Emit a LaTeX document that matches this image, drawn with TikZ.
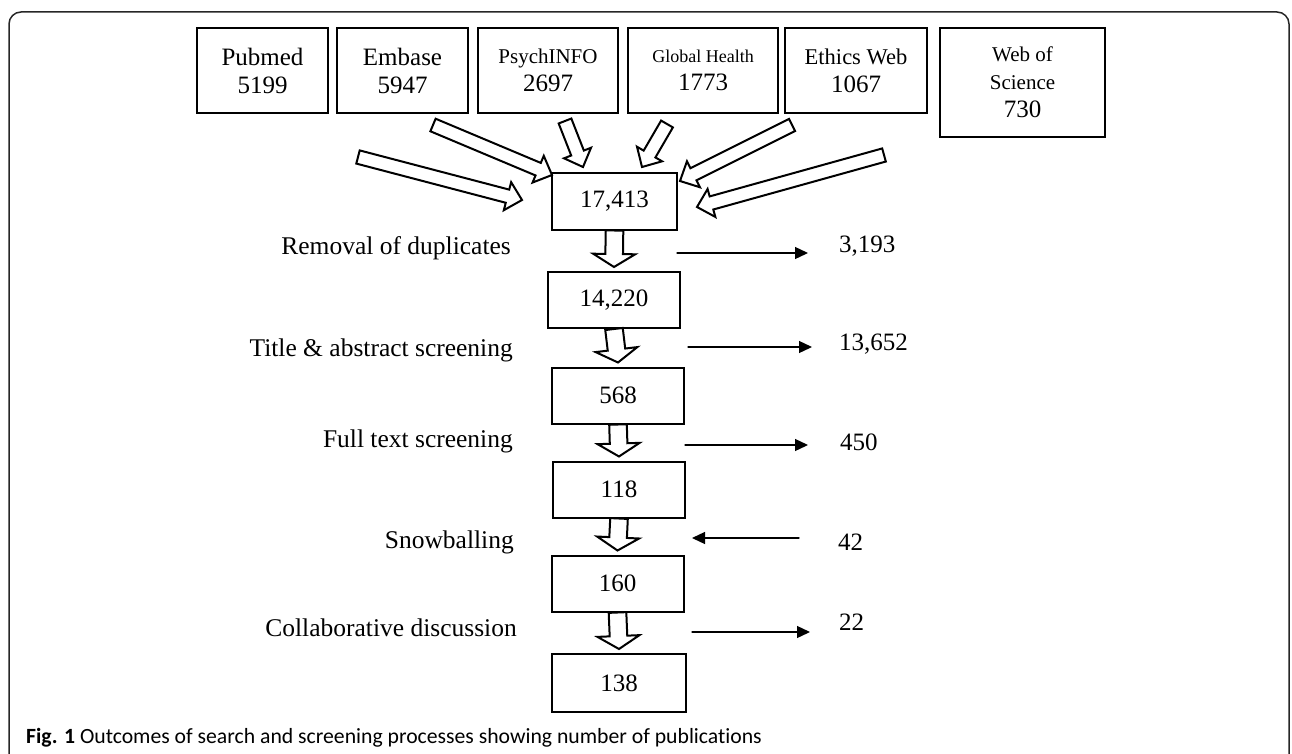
\documentclass[tikz,border=0pt]{standalone}
\usepackage{fontspec}
\setmainfont{Liberation Serif}
\newfontfamily\capfont[Ligatures=NoCommon]{Carlito}
\usetikzlibrary{calc,arrows.meta}

% hollow block arrow: tail, tip, shaft half width, head half width, head length
\newcommand{\hollowarrow}[5]{%
  \draw[fatline] let \p1=($(#2)-(#1)$), \n1={atan2(\y1,\x1)}, \n2={veclen(\x1,\y1)} in
    ($(#1)+(\n1+90:#3)$) -- ($(#1)+(\n1:\n2-#5)+(\n1+90:#3)$) -- ($(#1)+(\n1:\n2-#5)+(\n1+90:#4)$)
    -- (#2) -- ($(#1)+(\n1:\n2-#5)+(\n1-90:#4)$) -- ($(#1)+(\n1:\n2-#5)+(\n1-90:#3)$)
    -- ($(#1)+(\n1-90:#3)$) -- cycle;
}

\begin{document}
\begin{tikzpicture}[
		x=1pt,y=1pt,
		line cap=round,
		box/.style={draw,line width=2pt,minimum width=132pt,minimum height=56pt,inner sep=0pt,align=center,font=\fontsize{25}{28}\selectfont},
		src/.style={box,minimum height=85pt},
		lbl/.style={anchor=east,inner sep=0pt,font=\fontsize{25.5}{28}\selectfont},
		num/.style={anchor=west,inner sep=0pt,font=\fontsize{25}{28}\selectfont},
		outarrow/.style={line width=1.3pt,-{Triangle[length=13pt,width=12pt]}},
		fatline/.style={line width=2pt,line join=miter,fill=white}
		]
		\useasboundingbox (0,0) rectangle (1292,-754);
		\draw[line width=1.5pt,black!85,rounded corners=12pt] (9,-800) -- (9,-12) -- (1289,-12) -- (1289,-800);
		% databases
		\node[src,minimum width=131pt] (pubmed) at (262.5,-70.5) {Pubmed\\5199};
		\node[src,minimum width=131pt] (embase) at (402.5,-70.5) {Embase\\5947};
		\node[src,minimum width=140pt] (psych) at (548,-70.5) {{\fontsize{21}{24}\selectfont PsychINFO}\\2697};
		\node[src,minimum width=150pt] (global) at (703,-70.5) {{\fontsize{18}{22}\selectfont Global Health}\\1773};
		\node[src,minimum width=142pt] (ethics) at (856,-70.5) {{\fontsize{22.5}{26}\selectfont Ethics Web}\\1067};
		\node[src,minimum width=165pt,minimum height=109pt] (wos) at (1022.5,-82.5) {{\fontsize{21}{25}\selectfont Web of}\\{\fontsize{21}{27}\selectfont Science}\\730};
		% screening steps
		\node[box,minimum width=125pt] (n1) at (614.5,-201.5) {17,413};
		\node[box] (n2) at (614,-300) {14,220};
		\node[box] (n3) at (618,-395.5) {568};
		\node[box] (n4) at (619,-489.5) {118};
		\node[box] (n5) at (617.5,-583.5) {160};
		\node[box,minimum width=134pt,minimum height=58pt] (n6) at (619,-683) {138};
		% merging arrows
		\coordinate (t1) at (358,-157); \coordinate (h1) at (522,-200);
		\coordinate (t2) at (433,-125); \coordinate (h2) at (552,-175);
		\coordinate (t3) at (565,-121); \coordinate (h3) at (583,-167);
		\coordinate (t4) at (667,-124); \coordinate (h4) at (642,-167);
		\coordinate (t5) at (792,-125); \coordinate (h5) at (680,-181);
		\coordinate (t6) at (884,-155); \coordinate (h6) at (697,-207);
		\foreach \i in {1,...,6}
			\hollowarrow{t\i}{h\i}{6.8}{14.5}{15};
		\foreach \a/\b in {n1/n2,n2/n3,n3/n4,n4/n5,n5/n6}{
			\coordinate (tip) at ([yshift=4pt]\b.north);
			\hollowarrow{\a.south}{tip}{8.8}{21}{13};
		}
		% step labels
		\node[lbl] (l1) at (511,-248) {Removal of duplicates};
		\node[lbl] (l2) at (513,-350) {Title \& abstract screening};
		\node[lbl] (l3) at (513,-441) {Full text screening};
		\node[lbl] (l4) at (514,-542) {Snowballing};
		\node[lbl] (l5) at (517,-628) {Collaborative discussion};
		% excluded / added
		\node[num] (r1) at (839,-246) {3,193};
		\node[num] (r2) at (839,-344) {13,652};
		\node[num] (r3) at (840,-442) {450};
		\node[num] (r4) at (838,-542) {42};
		\node[num] (r5) at (839,-622) {22};
		\coordinate (a1) at (677,-253); \coordinate (b1) at (808,-253);
		\coordinate (a2) at (688,-347); \coordinate (b2) at (812,-347);
		\coordinate (a3) at (685,-445); \coordinate (b3) at (808,-445);
		\coordinate (a4) at (799,-538); \coordinate (b4) at (692,-538);
		\coordinate (a5) at (692,-632); \coordinate (b5) at (810,-632);
		\foreach \i in {1,...,5}
			\draw[outarrow] (a\i) -- (b\i);
		% caption
		\node[anchor=west,inner sep=0pt,font=\capfont\fontsize{21.7}{25}\selectfont] (cap) at (26,-738)
			{\textbf{Fig. 1} Outcomes of search and screening processes showing number of publications};
\end{tikzpicture}
\end{document}
